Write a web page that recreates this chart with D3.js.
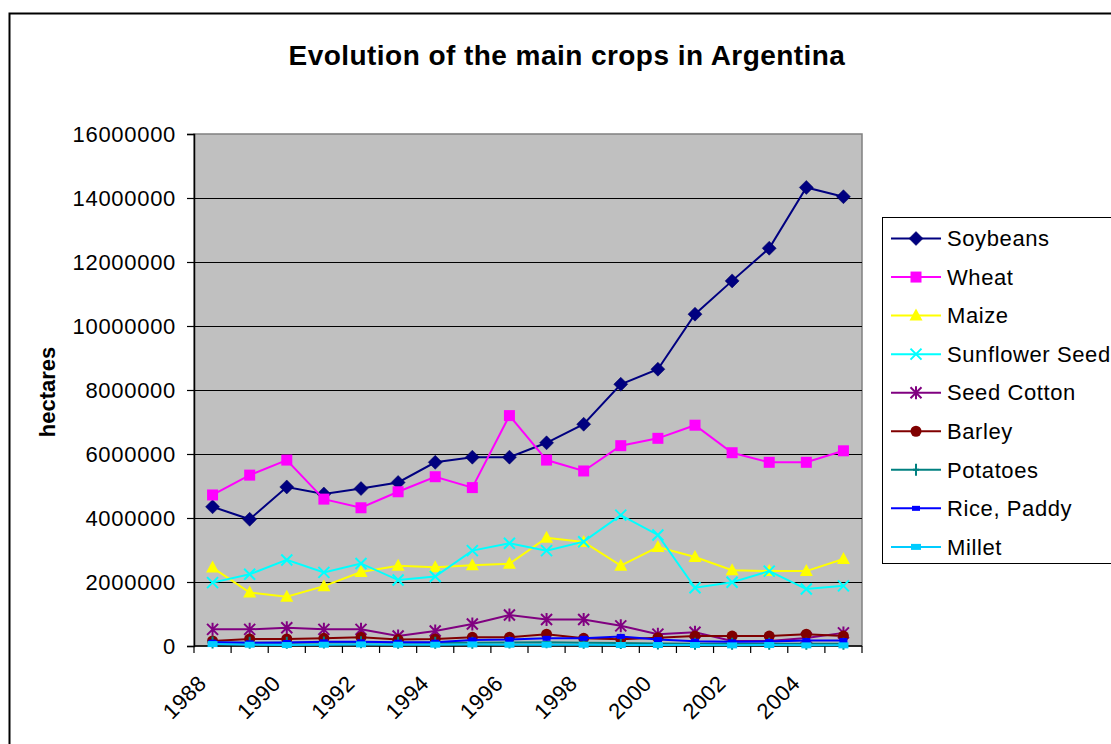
<!DOCTYPE html>
<html><head><meta charset="utf-8">
<script src="https://cdn.jsdelivr.net/npm/d3@7"></script>
<style>
body{margin:0;background:#fff}
svg{display:block}
text{font-family:"Liberation Sans",Arial,sans-serif;fill:#000}
</style>
</head><body>
<svg id="c" width="1111" height="744"></svg>
<script>
const years = ["1988","1989","1990","1991","1992","1993","1994","1995","1996","1997","1998","1999","2000","2001","2002","2003","2004","2005"];
const yearLabels = ["1988","1990","1992","1994","1996","1998","2000","2002","2004"];
const yTicks = [0,2000000,4000000,6000000,8000000,10000000,12000000,14000000,16000000];
const seriesNames = ["Soybeans","Wheat","Maize","Sunflower Seed","Seed Cotton","Barley","Potatoes","Rice, Paddy","Millet"];

const soybeans   = [4350000,3960000,4970000,4750000,4920000,5110000,5740000,5900000,5900000,6350000,6930000,8180000,8650000,10370000,11410000,12430000,14330000,14040000];
const wheat      = [4720000,5340000,5810000,4590000,4320000,4820000,5290000,4950000,7200000,5810000,5470000,6260000,6490000,6900000,6040000,5740000,5740000,6100000];
const maize      = [2450000,1670000,1540000,1870000,2310000,2510000,2460000,2520000,2570000,3380000,3250000,2510000,3090000,2780000,2370000,2340000,2340000,2720000];
const sunflower  = [1980000,2240000,2690000,2300000,2580000,2060000,2170000,2980000,3210000,2980000,3260000,4090000,3470000,1820000,1990000,2340000,1780000,1880000];
const seedCotton = [520000,520000,570000,520000,520000,310000,470000,690000,970000,830000,830000,630000,370000,430000,160000,160000,250000,410000];
const barley     = [160000,220000,220000,240000,270000,200000,220000,270000,270000,370000,240000,210000,260000,310000,310000,310000,370000,310000];
const potatoes   = [110000,100000,100000,110000,120000,100000,100000,100000,110000,120000,100000,90000,80000,70000,70000,70000,70000,70000];
const rice       = [120000,100000,110000,130000,130000,120000,120000,190000,200000,240000,240000,300000,200000,150000,130000,140000,170000,170000];
const millet     = [60000,40000,30000,40000,50000,40000,40000,50000,40000,40000,40000,30000,30000,30000,20000,30000,20000,20000];

const seriesValues = [soybeans,wheat,maize,sunflower,seedCotton,barley,potatoes,rice,millet];
const styles = [
  {color:"#000080", marker:"diamond"},
  {color:"#FF00FF", marker:"square"},
  {color:"#FFFF00", marker:"triangle"},
  {color:"#00FFFF", marker:"x"},
  {color:"#800080", marker:"star"},
  {color:"#800000", marker:"circle"},
  {color:"#008080", marker:"plus"},
  {color:"#0000FF", marker:"dash"},
  {color:"#00CCFF", marker:"bigdash"}
];

const svg = d3.select("#c");
// chart frame
svg.append("rect").attr("x",9.5).attr("y",13.5).attr("width",1130).attr("height",760)
  .attr("fill","#fff").attr("stroke","#000").attr("stroke-width",2);

const P = {l:194, r:862, t:134, b:646};
const x = d3.scaleBand().domain(years).range([P.l,P.r]).padding(0);
const cx = d => x(d) + x.bandwidth()/2;
const y = d3.scaleLinear().domain([0,16000000]).range([P.b,P.t]);

// title
svg.append("text").attr("x",567).attr("y",65).attr("text-anchor","middle")
  .attr("font-size",28).attr("font-weight","bold").attr("letter-spacing",0.45)
  .text("Evolution of the main crops in Argentina");

// plot area
svg.append("rect").attr("x",P.l).attr("y",P.t).attr("width",P.r-P.l).attr("height",P.b-P.t)
  .attr("fill","#C0C0C0").attr("stroke","#808080").attr("stroke-width",1.5);

// gridlines
svg.append("g").selectAll("line").data(yTicks.filter(d=>d>0 && d<16000000)).join("line")
  .attr("x1",P.l).attr("x2",P.r).attr("y1",d=>Math.round(y(d))+0.5).attr("y2",d=>Math.round(y(d))+0.5)
  .attr("stroke","#000").attr("stroke-width",1);

// y axis
const yAxis = svg.append("g").attr("transform",`translate(${P.l},0)`)
  .call(d3.axisLeft(y).tickValues(yTicks).tickSize(7).tickPadding(11).tickFormat(d3.format("d")));
yAxis.select(".domain").attr("stroke","#000").attr("stroke-width",1.5);
yAxis.selectAll(".tick line").attr("stroke","#000").attr("stroke-width",1.2);
yAxis.selectAll(".tick text").attr("font-size",22).attr("letter-spacing",0.7)
  .attr("font-family","'Liberation Sans',Arial,sans-serif").attr("fill","#000");

// y title
svg.append("text").attr("transform","translate(55,392) rotate(-90)").attr("text-anchor","middle")
  .attr("font-size",22).attr("font-weight","bold").text("hectares");

// x axis line & boundary ticks
svg.append("line").attr("x1",P.l).attr("x2",P.r).attr("y1",P.b).attr("y2",P.b).attr("stroke","#000").attr("stroke-width",1.5);
const bounds = years.map(d=>x(d)).concat([P.r]);
svg.append("g").selectAll("line").data(bounds).join("line")
  .attr("x1",d=>d).attr("x2",d=>d).attr("y1",P.b).attr("y2",P.b+7)
  .attr("stroke","#000").attr("stroke-width",1.2);
svg.append("g").selectAll("text").data(yearLabels).join("text")
  .attr("transform",d=>`translate(${cx(d)-5},685) rotate(-45)`)
  .attr("text-anchor","end").attr("font-size",22).attr("letter-spacing",0.3).text(d=>d);

// marker generator
function markerPath(type){
  switch(type){
    case "diamond": return "M0,-7L7,0L0,7L-7,0Z";
    case "square": return "M-5.5,-5.5H5.5V5.5H-5.5Z";
    case "triangle": return "M0,-7L6.5,5L-6.5,5Z";
    case "x": return "M-5.5,-5.5L5.5,5.5M-5.5,5.5L5.5,-5.5";
    case "star": return "M-5.5,-5.5L5.5,5.5M-5.5,5.5L5.5,-5.5M0,-6.5V6.5";
    case "circle": return d3.symbol(d3.symbolCircle, 95)();
    case "plus": return "M0,-6V6M-3,0H3";
    case "dash": return "M-4,-2.5H4V2.5H-4Z";
    case "bigdash": return "M-5,-3H5V3H-5Z";
  }
}
const stroked = {x:true, star:true, plus:true};

function drawMarker(g, type, color){
  const p = g.append("path").attr("d", markerPath(type));
  if(stroked[type]) p.attr("fill","none").attr("stroke",color).attr("stroke-width",2);
  else p.attr("fill",color).attr("stroke",type==="diamond"?"#000060":"none").attr("stroke-width",0.5);
}

const line = d3.line().x((d,i)=>cx(years[i])).y(d=>y(d));
seriesValues.forEach((vals,si)=>{
  const st = styles[si];
  const g = svg.append("g");
  g.append("path").datum(vals).attr("d",line).attr("fill","none").attr("stroke",st.color).attr("stroke-width",2);
  vals.forEach((v,i)=>{
    const mg = g.append("g").attr("transform",`translate(${cx(years[i])},${y(v)})`);
    drawMarker(mg, st.marker, st.color);
  });
});

// legend
const L = svg.append("g");
L.append("rect").attr("x",882.5).attr("y",217.5).attr("width",300).attr("height",346)
  .attr("fill","#fff").attr("stroke","#000").attr("stroke-width",1);
seriesNames.forEach((name,i)=>{
  const yy = 238.5 + i*38.55;
  const st = styles[i];
  L.append("line").attr("x1",891).attr("x2",941).attr("y1",yy).attr("y2",yy).attr("stroke",st.color).attr("stroke-width",2);
  const mg = L.append("g").attr("transform",`translate(916,${yy})`);
  drawMarker(mg, st.marker, st.color);
  L.append("text").attr("x",947).attr("y",yy).attr("dy","0.35em").attr("font-size",22)
    .attr("letter-spacing",0.6).text(name);
});
</script>
</body></html>
